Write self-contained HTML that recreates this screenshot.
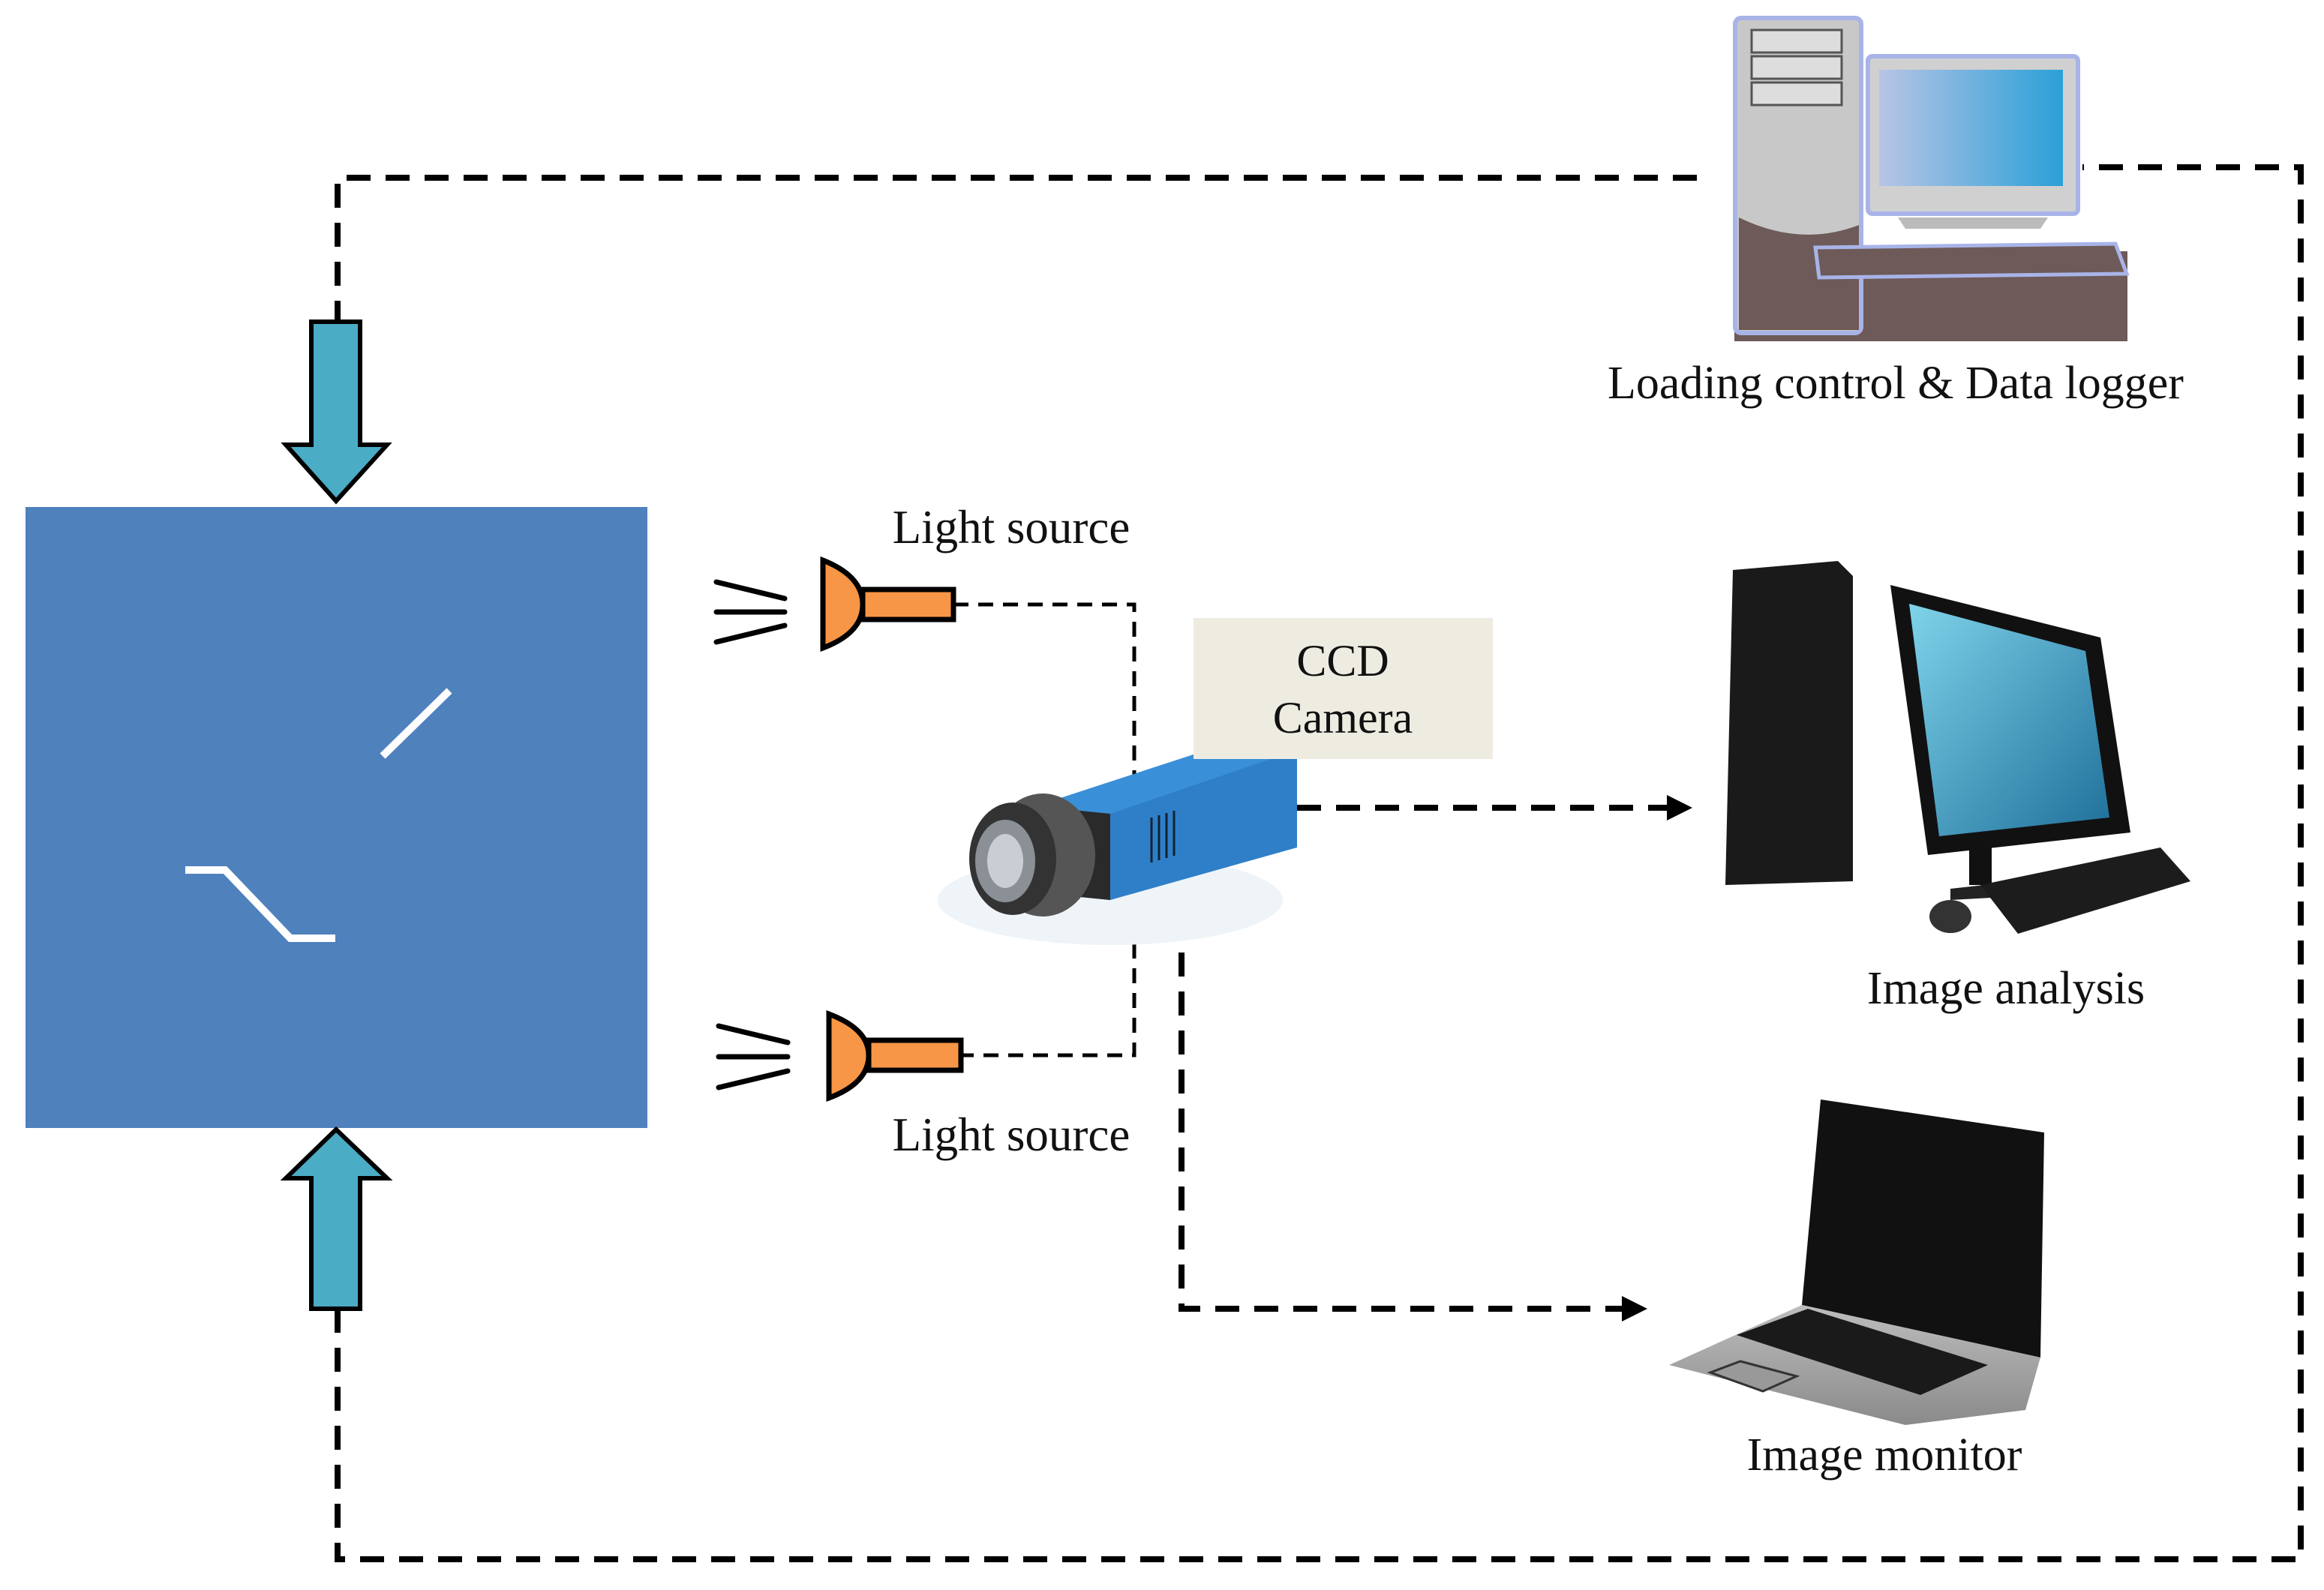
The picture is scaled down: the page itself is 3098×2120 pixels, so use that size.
<!DOCTYPE html>
<html><head><meta charset="utf-8"><style>
html,body{margin:0;padding:0;background:#fff;}
svg{display:block;}
text{font-family:"Liberation Serif",serif;fill:#111;}
</style></head><body>
<svg width="3098" height="2120" viewBox="0 0 3098 2120" xmlns="http://www.w3.org/2000/svg">
<defs>
<linearGradient id="scr" x1="0" x2="1"><stop offset="0" stop-color="#b8c4e6"/><stop offset="1" stop-color="#2aa0d8"/></linearGradient>
<linearGradient id="scr2" x1="0" y1="0" x2="1" y2="1"><stop offset="0" stop-color="#7fd4ea"/><stop offset="1" stop-color="#1f6f9a"/></linearGradient>
<linearGradient id="lap" x1="0" y1="0" x2="0" y2="1"><stop offset="0" stop-color="#bdbdbd"/><stop offset="1" stop-color="#8a8a8a"/></linearGradient>
</defs>

<g fill="none" stroke="#000" stroke-width="8" stroke-dasharray="32,20">
<polyline points="2262,237 450,237 450,429"/>
<polyline points="450,1745 450,2079 3067,2079 3067,223 2776,223"/>
<polyline points="1729,1077 2225,1077"/>
<polyline points="1575,1166 1575,1745 2165,1745"/>
</g>
<polygon points="2256,1077 2222,1060 2222,1094" fill="#000"/>
<polygon points="2196,1745 2162,1728 2162,1762" fill="#000"/>

<g fill="none" stroke="#000" stroke-width="5" stroke-dasharray="20,13">
<polyline points="1271,806 1512,806 1512,1407 1281,1407"/>
</g>

<rect x="34" y="676" width="829" height="828" fill="#4f81bd"/>
<line x1="510" y1="1008" x2="599" y2="921" stroke="#fff" stroke-width="10"/>
<polyline points="247,1160 300,1160 387,1251 447,1251" fill="none" stroke="#fff" stroke-width="10"/>

<polygon points="415,429 480,429 480,593 516,593 448,668 381,593 415,593" fill="#4bacc6" stroke="#000" stroke-width="6"/>
<polygon points="415,1745 480,1745 480,1571 516,1571 448,1506 381,1571 415,1571" fill="#4bacc6" stroke="#000" stroke-width="6"/>

<g stroke="#000" stroke-width="7" fill="#f79646">
<path d="M1097,747 Q1150,768 1150,806 Q1150,844 1097,864 Z"/>
<rect x="1150" y="786" width="121" height="40"/>
<path d="M1105,1352 Q1158,1372 1158,1407 Q1158,1444 1105,1464 Z"/>
<rect x="1158" y="1387" width="123" height="40"/>
</g>
<g stroke="#000" stroke-width="7" stroke-linecap="round">
<line x1="955" y1="776" x2="1046" y2="798"/><line x1="955" y1="816" x2="1046" y2="816"/><line x1="955" y1="856" x2="1046" y2="834"/>
<line x1="958" y1="1368" x2="1050" y2="1390"/><line x1="958" y1="1409" x2="1050" y2="1409"/><line x1="958" y1="1450" x2="1050" y2="1428"/>
</g>
<text x="1348" y="724" font-size="63" text-anchor="middle">Light source</text>
<text x="1348" y="1534" font-size="63" text-anchor="middle">Light source</text>

<ellipse cx="1480" cy="1200" rx="230" ry="60" fill="#eef4f8"/>
<polygon points="1380,1075 1640,990 1729,1000 1729,1130 1480,1200 1380,1190" fill="#2f7fc8"/>
<polygon points="1380,1075 1640,990 1729,1000 1480,1085" fill="#3a90d8"/>
<polygon points="1380,1075 1480,1085 1480,1200 1380,1190" fill="#2a2a2a"/>
<g stroke="#123" stroke-width="3">
<line x1="1535" y1="1090" x2="1535" y2="1150"/><line x1="1545" y1="1087" x2="1545" y2="1147"/><line x1="1555" y1="1084" x2="1555" y2="1144"/><line x1="1565" y1="1081" x2="1565" y2="1141"/>
</g>
<ellipse cx="1390" cy="1140" rx="70" ry="82" fill="#555"/>
<ellipse cx="1350" cy="1145" rx="58" ry="75" fill="#333"/>
<ellipse cx="1340" cy="1148" rx="40" ry="55" fill="#8a9096"/>
<ellipse cx="1340" cy="1148" rx="24" ry="36" fill="#c8ced4"/>

<rect x="1591" y="824" width="399" height="188" fill="#eeece1"/>
<text x="1790" y="901" font-size="60" text-anchor="middle">CCD</text>
<text x="1790" y="977" font-size="60" text-anchor="middle">Camera</text>

<rect x="2312" y="335" width="524" height="120" fill="#6e5a58"/>
<rect x="2313" y="24" width="168" height="420" rx="8" fill="#c8c8c8" stroke="#a8b4e8" stroke-width="6"/>
<path d="M2318,290 Q2400,330 2478,300 L2478,440 L2318,440 Z" fill="#6e5a58"/>
<rect x="2335" y="40" width="120" height="30" fill="#ddd" stroke="#555" stroke-width="3"/>
<rect x="2335" y="75" width="120" height="30" fill="#ddd" stroke="#555" stroke-width="3"/>
<rect x="2335" y="110" width="120" height="30" fill="#ddd" stroke="#555" stroke-width="3"/>
<rect x="2490" y="75" width="280" height="210" rx="6" fill="#d0d0d0" stroke="#a8b4e8" stroke-width="6"/>
<rect x="2505" y="93" width="245" height="155" fill="url(#scr)"/>
<polygon points="2540,305 2720,305 2730,290 2530,290" fill="#bbb"/>
<polygon points="2420,330 2820,325 2835,365 2425,370" fill="#6e5a58" stroke="#a8b4e8" stroke-width="5"/>
<text x="2527" y="531" font-size="62" text-anchor="middle">Loading control &amp; Data logger</text>

<polygon points="2310,760 2450,748 2470,768 2470,1175 2300,1180" fill="#1a1a1a"/>
<polygon points="2520,780 2800,850 2840,1110 2570,1140" fill="#111"/>
<polygon points="2545,805 2780,868 2812,1090 2585,1115" fill="url(#scr2)"/>
<rect x="2625" y="1130" width="30" height="50" fill="#111"/>
<polygon points="2600,1185 2690,1175 2690,1195 2600,1200" fill="#222"/>
<polygon points="2640,1180 2880,1130 2920,1175 2690,1245" fill="#1c1c1c"/>
<ellipse cx="2600" cy="1222" rx="28" ry="22" fill="#333"/>
<text x="2674" y="1338" font-size="62" text-anchor="middle">Image analysis</text>

<polygon points="2427,1466 2725,1510 2720,1810 2402,1740" fill="#111"/>
<polygon points="2225,1820 2402,1740 2720,1810 2700,1880 2540,1900" fill="url(#lap)"/>
<polygon points="2315,1780 2410,1745 2650,1820 2560,1860" fill="#1a1a1a"/>
<polygon points="2280,1830 2320,1815 2395,1835 2350,1855" fill="#999" stroke="#333" stroke-width="3"/>
<text x="2512" y="1960" font-size="62" text-anchor="middle">Image monitor</text>
</svg>
</body></html>
